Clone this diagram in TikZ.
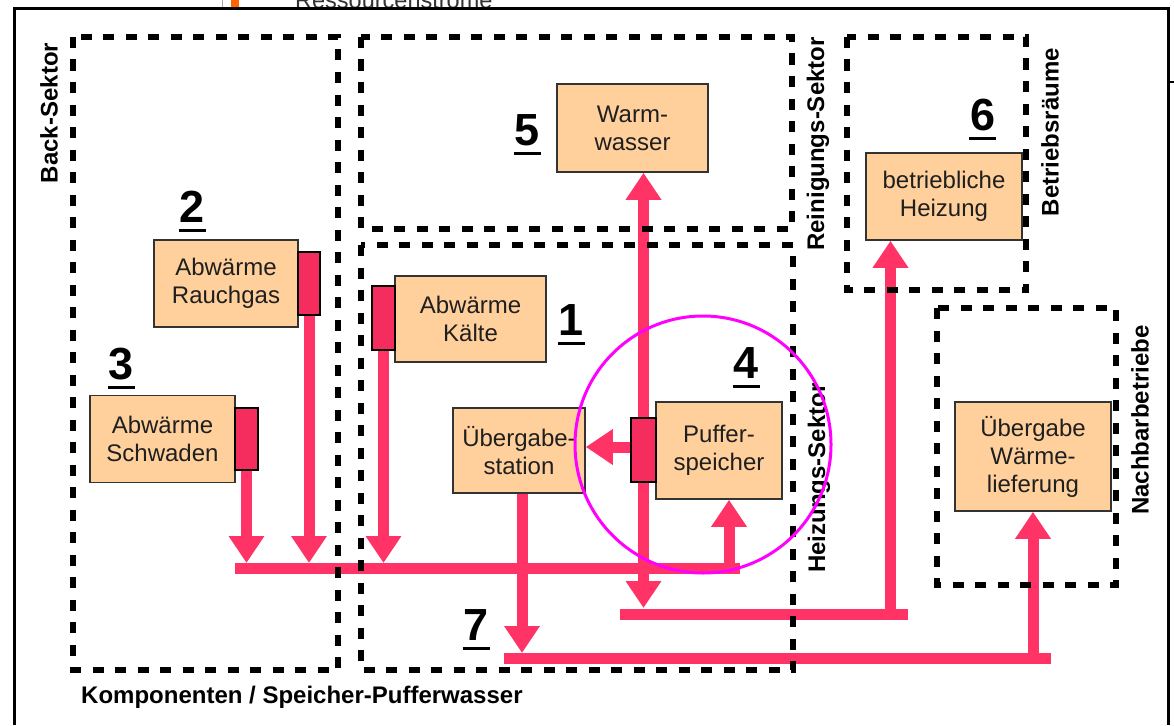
\documentclass[tikz,border=0pt]{standalone}
\usepackage{fontspec}
\setmainfont{Liberation Sans}
\usetikzlibrary{arrows.meta}
\definecolor{peach}{RGB}{255,208,155}
\definecolor{flowred}{RGB}{255,51,102}
\definecolor{tabred}{RGB}{245,45,95}
\definecolor{markorange}{RGB}{255,102,0}
\definecolor{ringmagenta}{RGB}{255,0,255}
\pgfdeclarelayer{background}
\pgfsetlayers{background,main}
\begin{document}
\begin{tikzpicture}[x=1pt,y=-1pt,
  sector/.style={draw=black, line width=5.5pt, dash pattern=on 11pt off 11.5pt},
  obox/.style={draw=black!80, line width=1.6pt, fill=peach, font=\fontsize{24}{28}\selectfont, text=black!88, align=center, inner sep=0pt},
  tabbox/.style={draw=black, line width=1.5pt, fill=tabred, inner sep=0pt},
  flow/.style={draw=flowred, line width=11pt, -{Triangle[width=34pt,length=27pt]}},
  bus/.style={draw=flowred, line width=11pt},
  numlbl/.style={font=\fontsize{45}{45}\selectfont\bfseries, anchor=base, inner sep=0pt},
  uline/.style={line width=3pt},
  sectlbl/.style={font=\fontsize{24}{24}\selectfont\bfseries, rotate=90, inner sep=0pt}
]
\useasboundingbox (0,0) rectangle (1174,725);
\clip (0,0) rectangle (1174,725);

% screenshot remnants at the top
\draw[gray!70, line width=1pt] (222,0) -- (222,8);
\fill[markorange] (231,0) rectangle (239,9);
\begin{scope}
\clip (0,0) rectangle (1174,8);
\node[anchor=base west, font=\fontsize{23.5}{24}\selectfont, text=black!80, inner sep=0pt] (cut) at (295,9) {Ressourcenströme};
\end{scope}
\draw[black, line width=3pt] (14,725) -- (14,8.5) -- (1168,8.5) -- (1168,725);
\draw[black, line width=1.5pt] (1168,82) -- (1174,82);

% boxes
\node[obox, minimum width=144pt, minimum height=87pt] (rauch) at (226,283.5) {Abwärme\\Rauchgas};
\node[tabbox, minimum width=22pt, minimum height=63pt] (tabR) at (309,283.5) {};
\node[obox, minimum width=145pt, minimum height=87pt] (schw) at (162.5,439) {Abwärme\\Schwaden};
\node[tabbox, minimum width=23pt, minimum height=62pt] (tabS) at (246.5,439) {};
\node[obox, minimum width=151pt, minimum height=86pt] (kaelte) at (470.5,319) {Abwärme\\Kälte};
\node[tabbox, minimum width=23pt, minimum height=64pt] (tabK) at (383.5,318) {};
\node[obox, minimum width=151pt, minimum height=88pt] (warm) at (632.5,128) {Warm-\\wasser};
\node[obox, minimum width=132pt, minimum height=85pt] (ueb) at (519,450.5) {Übergabe-\\station};
\node[obox, minimum width=126pt, minimum height=97pt] (puffer) at (719,450.5) {Puffer-\\speicher};
\node[tabbox, minimum width=25pt, minimum height=64pt] (tabP) at (643.5,450) {};
\node[obox, minimum width=156pt, minimum height=87pt] (heiz) at (944,196.5) {betriebliche\\Heizung};
\node[obox, minimum width=156pt, minimum height=109pt] (lief) at (1033,456.5) {Übergabe\\Wärme-\\lieferung};

% bus coordinates
\coordinate (b1L) at (235,568);
\coordinate (b1R) at (740,568);
\coordinate (b1T) at (0,563);
\coordinate (pUp) at (729,568);
\coordinate (b2L) at (620,614);
\coordinate (b2R) at (908,614);
\coordinate (b2T) at (0,608);
\coordinate (hUp) at (890.5,614);
\coordinate (b3L) at (504,658.5);
\coordinate (b3R) at (1051,658.5);
\coordinate (b3T) at (0,653);
\coordinate (lUp) at (1033,658.5);

\begin{pgfonlayer}{background}
\draw[bus] (b1L) -- (b1R);
\draw[bus] (b2L) -- (b2R);
\draw[bus] (b3L) -- (b3R);
\draw[flow] (tabS.south) -- (tabS.south |- b1T);
\draw[flow] (tabR.south) -- (tabR.south |- b1T);
\draw[flow] (tabK.south) -- (tabK.south |- b1T);
\draw[flow] (pUp) -- (pUp |- puffer.south);
\draw[flow] (tabP.north) -- (tabP.north |- warm.south);
\draw[flow] (tabP.south) -- (tabP.south |- b2T);
\draw[flow] (hUp) -- (hUp |- heiz.south);
\draw[flow] ([yshift=3pt]tabP.west) -- ([yshift=3pt]tabP.west -| ueb.east);
\draw[flow] ([xshift=3pt]ueb.south) -- ([xshift=3pt]ueb.south |- b3T);
\draw[flow] (lUp) -- (lUp |- lief.south);
\end{pgfonlayer}

% sectors
\draw[sector] (73,37) rectangle (338,670);
\draw[sector] (361,37) rectangle (792,229);
\draw[sector] (361,245) rectangle (793,670);
\draw[sector] (847,37) rectangle (1026,290);
\draw[sector] (937,308) rectangle (1116,585);

% sector labels
\node[sectlbl] (lbBack) at (49,113) {Back-Sektor};
\node[sectlbl] (lbRein) at (818,144) {Reinigungs-Sektor};
\node[sectlbl] (lbHeiz) at (819,478) {Heizungs-Sektor};
\node[sectlbl] (lbBetr) at (1050,132) {Betriebsräume};
\node[sectlbl] (lbNach) at (1140,420) {Nachbarbetriebe};
\node[font=\fontsize{24}{24}\selectfont\bfseries, anchor=west, inner sep=0pt] (lbKomp) at (81,697) {Komponenten / Speicher-Pufferwasser};

% numbers
\foreach \nm/\px/\py in {2/192/222, 5/527/145, 6/982.5/130, 3/121.5/379, 1/571/335, 4/746/378, 7/476/640}{
  \node[numlbl] (n\nm) at (\px,\py) {\nm};
  \draw[uline] ([shift={(-13.5,8)}]n\nm.base) -- ([shift={(13.5,8)}]n\nm.base);
}

% highlight
\draw[ringmagenta, line width=3pt] (703,444.5) ellipse [x radius=128pt, y radius=128.5pt];
\end{tikzpicture}
\end{document}
